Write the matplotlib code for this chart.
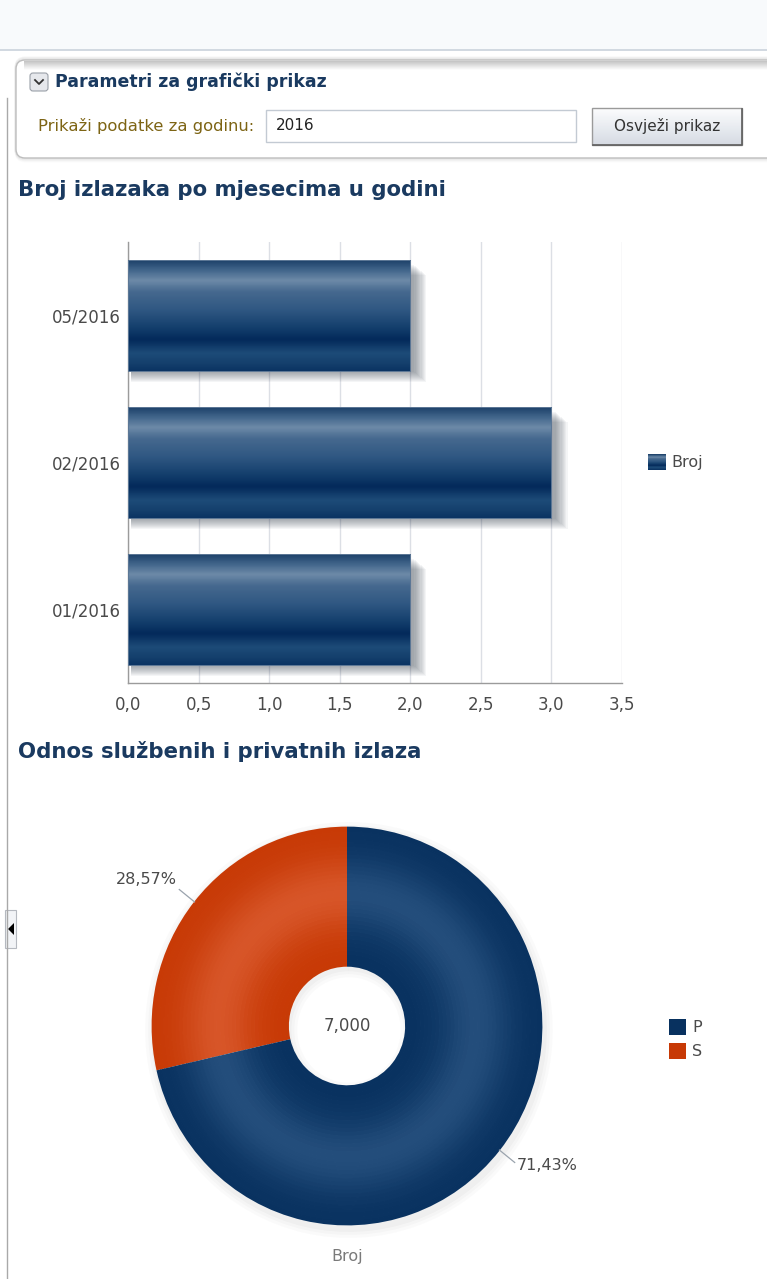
import numpy as np
import matplotlib
matplotlib.use("Agg")
import matplotlib.pyplot as plt
import matplotlib.colors as mcolors
from matplotlib.patches import Rectangle, FancyBboxPatch, Polygon
from matplotlib.ticker import FuncFormatter

# --- data -------------------------------------------------------------
year = "2016"
months = ["01/2016", "02/2016", "05/2016"]
trips = [2, 3, 2]
bar_series = "Broj"

kinds = ["P", "S"]
kind_counts = [5, 2]

W, H = 767, 1279
plt.rcParams["font.family"] = ["DejaVu Sans"]

NAVY = "#1a3a60"
GRAY_TXT = "#4a4a4a"


def frac(x0, y0, x1, y1):
    """pixel box (top-left origin) -> figure fraction rect"""
    return [x0 / W, 1 - y1 / H, (x1 - x0) / W, (y1 - y0) / H]


def stops_cmap(stops):
    return mcolors.LinearSegmentedColormap.from_list("g", stops)


# vertical profile of the glossy bar fill (top -> bottom)
bar_cmap = stops_cmap([
    (0.00, "#1e426a"), (0.08, "#3f6389"), (0.18, "#6d8aa8"), (0.28, "#46698f"),
    (0.45, "#2f5782"), (0.62, "#123d6b"), (0.72, "#03295a"), (0.84, "#1d4b78"),
    (0.94, "#143f6c"), (1.00, "#0b3463"),
])

fig = plt.figure(figsize=(W / 100, H / 100), dpi=100)
fig.patch.set_facecolor("white")

# --- page chrome ------------------------------------------------------
bg = fig.add_axes([0, 0, 1, 1], zorder=0)
bg.set_xlim(0, W)
bg.set_ylim(H, 0)
bg.axis("off")

bg.add_patch(Rectangle((0, 0), W, 49, color="#f8fafc", lw=0))
bg.plot([0, W], [50, 50], color="#c9d2dc", lw=1.2)
bg.plot([7, 7], [98, H], color="#a9a9a9", lw=1.0)

# parameters panel
for i, a in enumerate([0.10, 0.07, 0.05, 0.03]):
    bg.add_patch(FancyBboxPatch((16, 58 + i), 790, 100, boxstyle="round,pad=0,rounding_size=9",
                                fc="none", ec="#8c8c8c", lw=2.0, alpha=a))
bg.add_patch(FancyBboxPatch((16, 60), 790, 98, boxstyle="round,pad=0,rounding_size=9",
                            fc="white", ec="#bdbdbd", lw=1.0))
grad = np.linspace(0, 1, 30)[:, None]
bg.imshow(grad, cmap=stops_cmap(["#c4c4c4", "#ffffff"]), extent=(24, W, 70, 61),
          aspect="auto", zorder=2)

# collapse chevron
bg.add_patch(FancyBboxPatch((30, 73), 18, 18, boxstyle="round,pad=0,rounding_size=3",
                            fc="#e6e8ec", ec="#9aa0a8", lw=0.8, zorder=3))
bg.plot([35, 39, 43], [80, 84, 80], color="#333333", lw=1.3, zorder=4)
bg.text(55, 82, "Parametri za grafički prikaz", fontsize=12.5, fontweight="bold",
        color=NAVY, va="center", zorder=4)

bg.text(38, 126, "Prikaži podatke za godinu:", fontsize=11.8, color="#7d6414",
        va="center", zorder=4)
bg.add_patch(Rectangle((266, 110), 310, 32, fc="white", ec="#c3cad3", lw=1.0, zorder=3))
bg.text(276, 126, year, fontsize=11, color="#222222", va="center", zorder=4)

# refresh button
bg.imshow(np.linspace(0, 1, 40)[:, None], cmap=stops_cmap(["#fbfcfd", "#e9ecf1", "#d6dbe3"]),
          extent=(592, 742, 145, 108), aspect="auto", zorder=3)
bg.add_patch(Rectangle((592, 108), 150, 37, fc="none", ec="#9a9a9a", lw=1.0, zorder=4))
bg.plot([593, 742, 742], [145, 145, 109], color="#5e5e5e", lw=1.2, zorder=4)
bg.text(667, 126, "Osvježi prikaz", fontsize=11, color="#333333", ha="center",
        va="center", zorder=5)

# section titles
bg.text(18, 190, "Broj izlazaka po mjesecima u godini", fontsize=15.3, fontweight="bold",
        color=NAVY, va="center")
bg.text(18, 752, "Odnos službenih i privatnih izlaza", fontsize=15.3, fontweight="bold",
        color=NAVY, va="center")

# side toggle tab
bg.add_patch(Rectangle((5, 910), 11, 38, fc="#f2f4f7", ec="#b5b9c0", lw=0.8))
bg.add_patch(Polygon([[8, 929], [14, 923], [14, 935]], closed=True, fc="black", ec="none"))

# --- bar chart --------------------------------------------------------
ax = fig.add_axes(frac(128, 242, 622, 683), zorder=2)
ax.set_facecolor("none")
ypos = np.arange(len(months))
bar_h = 0.75
bars = ax.barh(ypos, trips, height=bar_h, color="none", edgecolor="none", zorder=3)

px_x = 3.5 / 494
px_y = 3.0 / 441
for b in bars:
    x0, y0, w, h = b.get_x(), b.get_y(), b.get_width(), b.get_height()
    # soft drop shadow, down and to the right
    for k in range(1, 12):
        ax.add_patch(Rectangle((x0 + 3 * px_x, y0 - k * 1.0 * px_y), w + k * 1.2 * px_x,
                               h - 4 * px_y, fc="#36404f", ec="none", alpha=0.05, zorder=2))
    ax.imshow(np.linspace(0, 1, 120)[:, None], cmap=bar_cmap, aspect="auto",
              extent=(x0, x0 + w, y0, y0 + h), zorder=4, interpolation="bilinear")
    ax.add_patch(Rectangle((x0, y0), w, h, fc="none", ec="#5d7896", lw=0.7, zorder=5))

ax.set_xlim(0, 3.5)
ax.set_ylim(-0.5, 2.5)
ax.set_xticks(np.arange(0, 3.51, 0.5))
ax.xaxis.set_major_formatter(FuncFormatter(lambda v, _: f"{v:.1f}".replace(".", ",")))
ax.set_yticks(ypos)
ax.set_yticklabels(months)
ax.tick_params(axis="both", length=0, labelsize=12, labelcolor=GRAY_TXT)
ax.tick_params(axis="x", pad=9)
ax.tick_params(axis="y", pad=5)
ax.grid(axis="x", color="#dcdfe5", lw=1.0, zorder=0)
for s in ["top", "right"]:
    ax.spines[s].set_visible(False)
for s in ["left", "bottom"]:
    ax.spines[s].set_color("#9b9b9b")
    ax.spines[s].set_linewidth(1.0)

# legend swatch for the bar series
bg.imshow(np.linspace(0, 1, 20)[:, None], cmap=bar_cmap, extent=(648, 666, 470, 454),
          aspect="auto", zorder=3)
bg.text(671, 462, bar_series, fontsize=11.5, color=GRAY_TXT, va="center")

# --- donut ------------------------------------------------------------
cx, cy, rx, ry = 347, 1026, 195, 199
pad = 1.4
pax = fig.add_axes(frac(cx - rx * pad, cy - ry * pad, cx + rx * pad, cy + ry * pad), zorder=3)
pax.set_facecolor("none")

total = sum(kind_counts)
order = [1, 0]  # S first so it opens counter-clockwise from 12 o'clock
vals = [kind_counts[i] for i in order]
base = {"P": ("#08315f", "#234d7b"), "S": ("#c73905", "#d75528")}

# faint halo beneath the ring
for k, a in enumerate([0.05, 0.04, 0.03]):
    pax.pie(vals, radius=1.0 + 0.015 * (k + 1), startangle=90, counterclock=True,
            colors=["#7f7f7f"] * 2, wedgeprops=dict(width=0.72 + 0.03 * k, lw=0, alpha=a),
            center=(0.01, -0.02))

r_in, r_out, n_rings = 0.30, 1.0, 36
edges = np.linspace(r_in, r_out, n_rings + 1)
for j in range(n_rings):
    t = (0.5 * (edges[j] + edges[j + 1]) - r_in) / (r_out - r_in)
    wgt = np.exp(-((t - 0.52) / 0.26) ** 2)
    cols = []
    for i in order:
        dark, light = (np.array(mcolors.to_rgb(c)) for c in base[kinds[i]])
        cols.append(dark + (light - dark) * wgt)
    pax.pie(vals, radius=edges[j + 1] + 0.002, startangle=90, counterclock=True, colors=cols,
            wedgeprops=dict(width=edges[j + 1] - edges[j] + 0.004, lw=0))

pax.set_aspect("auto")
pax.set_xlim(-pad, pad)
pax.set_ylim(-pad, pad)
pax.axis("off")

# percentage labels with short leader lines
start = 90.0
for i in order:
    share = kind_counts[i] / total
    mid = np.deg2rad(start + 180 * share)
    start += 360 * share
    ux, uy = np.cos(mid), np.sin(mid)
    label = f"{100 * share:.2f}".replace(".", ",") + "%"
    p0 = (1.0 * ux, 1.0 * uy)
    p1 = (1.1 * ux, 1.1 * uy)
    pax.plot([p0[0], p1[0]], [p0[1], p1[1]], color="#9aa3ad", lw=0.9)
    if ux < 0:
        pax.text(p1[0] - 0.01, p1[1] + 0.015, label, ha="right", va="bottom",
                 fontsize=11.5, color=GRAY_TXT)
    else:
        pax.text(p1[0] + 0.01, p1[1] - 0.015, label, ha="left", va="center",
                 fontsize=11.5, color=GRAY_TXT)

pax.text(0, 0, f"{total:.3f}".replace(".", ","), ha="center", va="center",
         fontsize=12, color=GRAY_TXT)
bg.text(cx, 1257, bar_series, ha="center", va="center", fontsize=11.5, color="#7a7a7a")

# donut legend
for k, name in enumerate(kinds):
    y0 = 1019 + 24 * k
    bg.add_patch(Rectangle((669, y0), 17, 16, fc=base[name][0], ec="none", zorder=3))
    bg.text(692, y0 + 8, name, fontsize=11.5, color=GRAY_TXT, va="center")

fig.savefig("out.png", dpi=100)
